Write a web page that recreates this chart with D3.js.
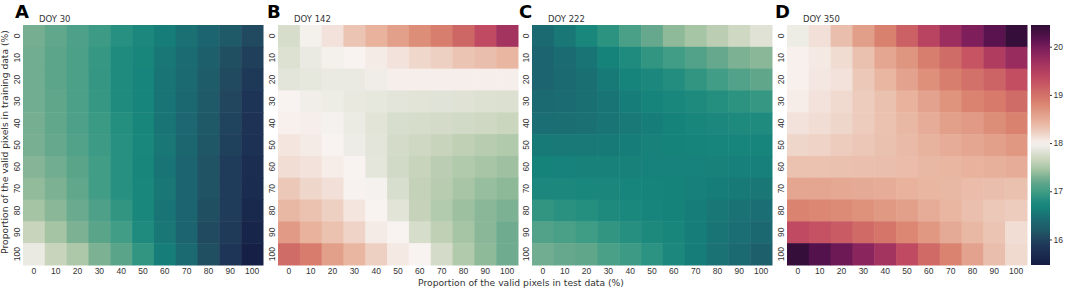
<!DOCTYPE html>
<html>
<head>
<meta charset="utf-8">
<script src="https://cdn.jsdelivr.net/npm/d3@7"></script>
<style>
  body { margin: 0; background: #fff; }
  svg { display: block; font-family: 'DejaVu Sans', sans-serif; }
  .tick text { fill: #333; font-size: 8.5px; }
</style>
</head>
<body>
<div id="chart"></div>
<script>
// proportion of valid pixels (%), used for both axes
const pctLabels = [0, 10, 20, 30, 40, 50, 60, 70, 80, 90, 100]
const panelLetters = ['A', 'B', 'C', 'D']
const panelTitles = ['DOY 30', 'DOY 142', 'DOY 222', 'DOY 350']
const cbarTicks = [16, 17, 18, 19, 20]

// rows = training %, columns = test %
const doy30 = [
  [17.27, 17.18, 17.08, 16.97, 16.85, 16.75, 16.6, 16.48, 16.35, 16.2, 16.05],
  [17.25, 17.16, 17.06, 16.93, 16.8, 16.7, 16.55, 16.43, 16.28, 16.1, 15.95],
  [17.25, 17.16, 17.06, 16.92, 16.8, 16.68, 16.52, 16.4, 16.23, 16.05, 15.88],
  [17.25, 17.17, 17.07, 16.93, 16.8, 16.68, 16.52, 16.38, 16.2, 16.02, 15.83],
  [17.27, 17.18, 17.08, 16.95, 16.83, 16.7, 16.53, 16.37, 16.18, 16.0, 15.8],
  [17.28, 17.2, 17.1, 16.97, 16.85, 16.72, 16.55, 16.36, 16.17, 15.97, 15.78],
  [17.33, 17.25, 17.15, 17.0, 16.85, 16.7, 16.52, 16.33, 16.15, 15.93, 15.73],
  [17.38, 17.3, 17.18, 17.0, 16.85, 16.72, 16.55, 16.35, 16.15, 15.93, 15.7],
  [17.45, 17.35, 17.22, 17.08, 16.9, 16.72, 16.52, 16.33, 16.1, 15.92, 15.65],
  [17.65, 17.45, 17.3, 17.15, 17.0, 16.8, 16.55, 16.35, 16.05, 15.9, 15.6],
  [17.9, 17.65, 17.5, 17.3, 17.15, 16.9, 16.6, 16.4, 16.1, 15.85, 15.5]
]
const doy142 = [
  [17.75, 17.97, 18.1, 18.3, 18.45, 18.6, 18.75, 18.87, 19.1, 19.35, 19.65],
  [17.8, 17.9, 17.97, 18.0, 18.05, 18.1, 18.17, 18.22, 18.3, 18.35, 18.42],
  [17.85, 17.87, 17.9, 17.9, 17.94, 18.03, 18.03, 18.03, 18.03, 18.03, 18.03],
  [18.0, 17.95, 17.92, 17.89, 17.87, 17.85, 17.84, 17.83, 17.82, 17.8, 17.79],
  [18.02, 18.03, 17.98, 17.91, 17.84, 17.77, 17.75, 17.74, 17.72, 17.7, 17.67],
  [18.08, 18.05, 18.0, 17.93, 17.85, 17.74, 17.7, 17.65, 17.6, 17.56, 17.52],
  [18.13, 18.1, 18.04, 18.0, 17.86, 17.72, 17.65, 17.58, 17.52, 17.47, 17.43],
  [18.27, 18.18, 18.12, 18.01, 17.98, 17.77, 17.63, 17.56, 17.47, 17.4, 17.36],
  [18.4, 18.32, 18.22, 18.08, 18.0, 17.84, 17.64, 17.53, 17.42, 17.35, 17.3],
  [18.65, 18.45, 18.32, 18.2, 18.05, 18.0, 17.75, 17.6, 17.46, 17.35, 17.24],
  [19.05, 18.88, 18.6, 18.42, 18.22, 18.06, 18.0, 17.74, 17.52, 17.37, 17.24]
]
const doy222 = [
  [16.4, 16.55, 16.72, 16.88, 17.05, 17.2, 17.37, 17.46, 17.58, 17.7, 17.82],
  [16.35, 16.42, 16.53, 16.65, 16.8, 16.9, 17.0, 17.1, 17.2, 17.3, 17.35],
  [16.35, 16.4, 16.47, 16.57, 16.67, 16.75, 16.82, 16.9, 17.0, 17.1, 17.17],
  [16.4, 16.43, 16.47, 16.53, 16.6, 16.67, 16.72, 16.78, 16.83, 16.88, 16.93],
  [16.45, 16.46, 16.48, 16.53, 16.56, 16.6, 16.65, 16.7, 16.75, 16.78, 16.8],
  [16.57, 16.56, 16.56, 16.57, 16.6, 16.63, 16.65, 16.66, 16.68, 16.68, 16.68],
  [16.65, 16.64, 16.63, 16.63, 16.63, 16.64, 16.64, 16.64, 16.63, 16.62, 16.62],
  [16.75, 16.73, 16.72, 16.71, 16.69, 16.67, 16.65, 16.62, 16.6, 16.57, 16.54],
  [16.9, 16.86, 16.83, 16.78, 16.74, 16.69, 16.65, 16.6, 16.55, 16.5, 16.45],
  [17.1, 17.05, 16.98, 16.9, 16.84, 16.77, 16.7, 16.6, 16.52, 16.45, 16.38],
  [17.25, 17.2, 17.17, 17.05, 16.97, 16.87, 16.75, 16.6, 16.5, 16.4, 16.27]
]
const doy350 = [
  [17.92, 18.12, 18.35, 18.62, 18.85, 19.15, 19.42, 19.72, 19.95, 20.15, 20.4],
  [18.02, 18.06, 18.14, 18.33, 18.55, 18.68, 18.87, 19.05, 19.25, 19.52, 19.75],
  [18.02, 18.07, 18.1, 18.27, 18.42, 18.58, 18.73, 18.87, 19.0, 19.13, 19.3],
  [18.04, 18.1, 18.15, 18.25, 18.33, 18.45, 18.58, 18.7, 18.83, 18.9, 19.05],
  [18.1, 18.13, 18.18, 18.25, 18.32, 18.4, 18.5, 18.6, 18.65, 18.75, 18.84],
  [18.18, 18.2, 18.25, 18.28, 18.33, 18.38, 18.44, 18.5, 18.55, 18.6, 18.67],
  [18.32, 18.32, 18.33, 18.34, 18.35, 18.37, 18.4, 18.42, 18.45, 18.47, 18.5],
  [18.55, 18.55, 18.53, 18.52, 18.5, 18.45, 18.42, 18.4, 18.37, 18.35, 18.33],
  [18.83, 18.8, 18.77, 18.72, 18.66, 18.6, 18.5, 18.42, 18.34, 18.27, 18.25],
  [19.35, 19.27, 19.2, 19.07, 18.95, 18.8, 18.67, 18.52, 18.4, 18.3, 18.13],
  [20.4, 20.2, 20.05, 19.85, 19.65, 19.35, 19.07, 18.83, 18.58, 18.35, 18.15]
]
const panelData = [doy30, doy142, doy222, doy350]

// curl-like diverging colour map, centred on 18
const cmapStops = [15.47, 15.85, 16.05, 16.2, 16.35, 16.5, 16.65, 16.8, 16.95, 17.15, 17.3, 17.45,
  17.65, 17.85, 18.0, 18.15, 18.3, 18.45, 18.6, 18.75, 18.9, 19.1, 19.3, 19.5, 19.7, 19.95, 20.15, 20.45]
const cmapColors = ['#151d44', '#1e3557', '#21495f', '#1f5a68', '#1c6570', '#1a7274', '#16837b', '#1f8b7e',
  '#3a9a84', '#5aa48a', '#7db193', '#a4c4a3', '#c8d4bb', '#e3e5da', '#f8f3f1', '#f0dad0', '#ebc4b3',
  '#e8b29d', '#e2a08b', '#dd8e78', '#d77a6b', '#cd6766', '#c34e62', '#b23e60', '#9e2f5f', '#7e1f5c',
  '#5b1350', '#2f0d36']

const width = 1065
const height = 290
const plotTop = 25
const size = 240
const panelLefts = [23, 278, 532, 787]
const letterOffsets = [-8, -11, -13, -12]

const color = d3.scaleLinear().domain(cmapStops).range(cmapColors).clamp(true)

const svg = d3.select('#chart').append('svg')
  .attr('width', width)
  .attr('height', height)

panelData.forEach((rows, p) => {
  const left = panelLefts[p]
  const x = d3.scaleBand().domain(pctLabels).range([left, left + size])
  const y = d3.scaleBand().domain(pctLabels).range([plotTop, plotTop + size])

  const g = svg.append('g')

  rows.forEach((row, i) => {
    g.selectAll(null)
      .data(row)
      .enter()
      .append('rect')
      .attr('x', (d, j) => x(pctLabels[j]))
      .attr('y', y(pctLabels[i]))
      .attr('width', x.bandwidth() + 0.5)
      .attr('height', y.bandwidth() + 0.5)
      .attr('fill', d => color(d))
  })

  const xAxis = g.append('g')
    .attr('transform', `translate(0,${plotTop + size})`)
    .call(d3.axisBottom(x).tickSize(0).tickPadding(3))
  xAxis.select('.domain').remove()

  const yAxis = g.append('g')
    .attr('transform', `translate(${left},0)`)
    .call(d3.axisLeft(y).tickSize(0).tickPadding(0))
  yAxis.select('.domain').remove()
  yAxis.selectAll('.tick text')
    .attr('x', null)
    .attr('dy', null)
    .attr('text-anchor', 'middle')
    .attr('transform', 'translate(-3.5,0) rotate(-90)')

  svg.append('text')
    .attr('x', left + letterOffsets[p])
    .attr('y', 18)
    .attr('font-size', '18px')
    .attr('font-weight', 'bold')
    .attr('fill', '#000')
    .text(panelLetters[p])

  svg.append('text')
    .attr('x', left + 16)
    .attr('y', 22)
    .attr('font-size', '8.5px')
    .attr('fill', '#333')
    .text(panelTitles[p])
})

// axis titles
svg.append('text')
  .attr('x', 521)
  .attr('y', 286)
  .attr('text-anchor', 'middle')
  .attr('font-size', '9.2px')
  .attr('fill', '#333')
  .text('Proportion of the valid pixels in test data (%)')

svg.append('text')
  .attr('transform', `translate(8,${plotTop + size / 2 - 3}) rotate(-90)`)
  .attr('text-anchor', 'middle')
  .attr('font-size', '9.2px')
  .attr('fill', '#333')
  .text('Proportion of the valid pixels in training data (%)')

// colour bar
const cbLeft = 1031
const cbWidth = 19
const cbScale = d3.scaleLinear()
  .domain([cmapStops[0], cmapStops[cmapStops.length - 1]])
  .range([plotTop + size, plotTop])

const grad = svg.append('defs').append('linearGradient')
  .attr('id', 'cbar')
  .attr('x1', 0).attr('y1', 1).attr('x2', 0).attr('y2', 0)
grad.selectAll('stop')
  .data(d3.range(0, 1.0001, 0.02))
  .enter()
  .append('stop')
  .attr('offset', d => d)
  .attr('stop-color', d => color(cbScale.domain()[0] + d * (cbScale.domain()[1] - cbScale.domain()[0])))

svg.append('rect')
  .attr('x', cbLeft)
  .attr('y', plotTop)
  .attr('width', cbWidth)
  .attr('height', size)
  .attr('fill', 'url(#cbar)')

const cbAxis = svg.append('g')
  .attr('transform', `translate(${cbLeft + cbWidth},0)`)
  .call(d3.axisRight(cbScale).tickValues(cbarTicks).tickFormat(d3.format('d')).tickSize(2).tickPadding(1.5))
cbAxis.select('.domain').remove()
cbAxis.selectAll('.tick line').attr('stroke', '#333')
</script>
</body>
</html>
